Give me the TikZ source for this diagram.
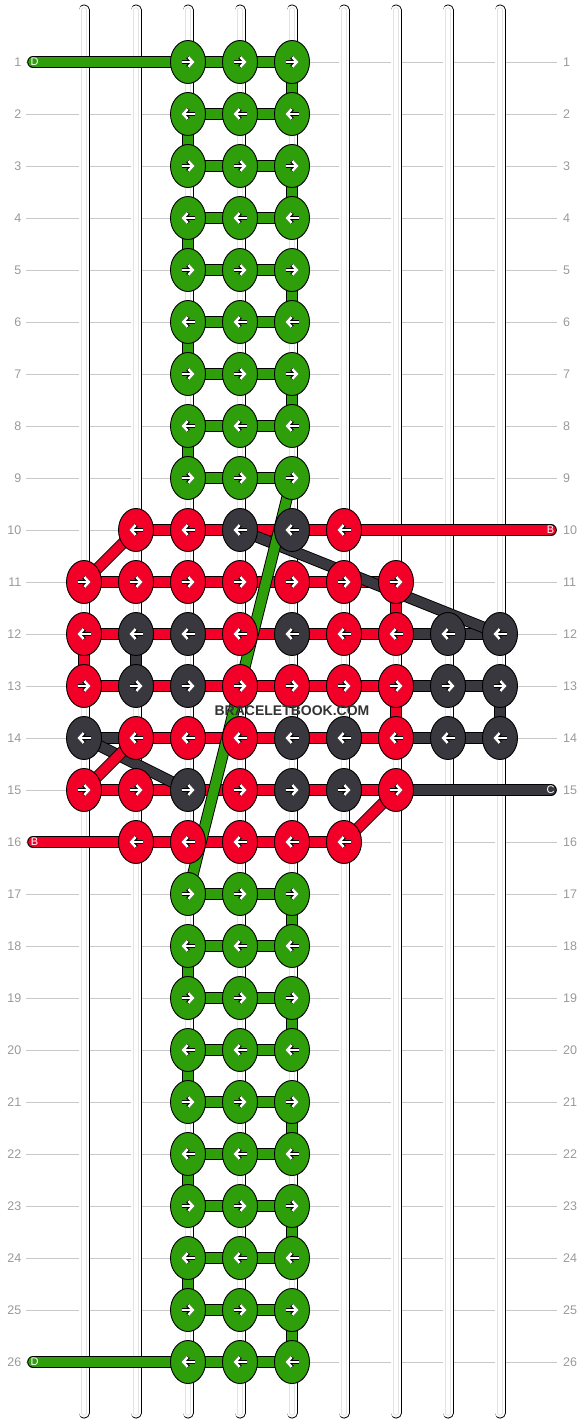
\documentclass[tikz,border=0pt]{standalone}
\usepackage{fontspec}
\setmainfont{Liberation Sans}
\usepackage{tikz}
\usetikzlibrary{shapes.geometric, arrows.meta}

\definecolor{tgreen}{HTML}{2E9E0A}
\definecolor{tred}{HTML}{F20028}
\definecolor{tdark}{HTML}{38383E}
\definecolor{rowgray}{HTML}{C8C8C8}
\definecolor{numgray}{HTML}{999999}

\pgfdeclarelayer{strings}
\pgfdeclarelayer{threads}
\pgfsetlayers{strings,threads,main}

% knot: row, column, colour, direction (1 = right, -1 = left)
\newcommand\knot[4]{\node[knot=#3, arr=#4] (k#1-#2) at ({84+52*#2},{10+52*#1}) {};}

\begin{document}
\begin{tikzpicture}[x=1pt, y=-1pt,
    knot/.style={ellipse, draw=black, line width=0.9pt, fill=#1, minimum width=35pt, minimum height=43pt, inner sep=0pt},
    arr/.style={path picture={
        \draw[black, line width=3.6pt, -{Straight Barb[length=4.5pt, width=10pt]}]
          ([xshift=-6.5pt*(#1)]path picture bounding box.center) -- ([xshift=6.5pt*(#1)]path picture bounding box.center);
        \draw[white, line width=2.5pt, -{Straight Barb[length=4.5pt, width=10pt]}]
          ([xshift=-6.5pt*(#1)]path picture bounding box.center) -- ([xshift=6.5pt*(#1)]path picture bounding box.center);}},
    thr/.style={draw=black, line width=0.9pt, double=#1, double distance=9.8pt},
    rowline/.style={draw=rowgray, line width=1pt},
    rowno/.style={text=numgray, font=\fontsize{12.5}{14}\selectfont, inner sep=0pt},
    endtag/.style={text=white, font=\fontsize{11}{12}\selectfont, inner sep=0pt}]
  \useasboundingbox (0,0) rectangle (584,1424);

  % background: row lines and strings
  \begin{pgfonlayer}{strings}
    \foreach \r in {1,...,26}
      \draw[rowline] (26,{10+52*\r}) -- (557,{10+52*\r});
    \foreach \c in {0,...,8}{
      \draw[black, line width=11pt, line cap=round] ({84+52*\c},10) -- ({84+52*\c},1413);
      \draw[white, line width=9.2pt, line cap=round] ({84+52*\c},10) -- ({84+52*\c},1413);
      \draw[gray!22, line width=5.4pt, line cap=round] ({84+52*\c},10) -- ({84+52*\c},1413);
      \draw[white, line width=3.6pt, line cap=round] ({84+52*\c},10) -- ({84+52*\c},1413);
    }
  \end{pgfonlayer}

  \foreach \r in {1,...,26}{
    \node[rowno, anchor=east] (nl\r) at (21.5,{10+52*\r}) {\r};
    \node[rowno, anchor=west] (nr\r) at (563,{10+52*\r}) {\r};
  }

  % knots
  \foreach \r in {1,2,3,4,5,6,7,8,9,17,18,19,20,21,22,23,24,25,26}{
    \ifodd\r \def\s{1}\else \def\s{-1}\fi
    \foreach \c in {2,3,4} {\knot{\r}{\c}{tgreen}{\s}}
  }
  \foreach \r/\c/\col/\s in {
      10/1/tred/-1, 10/2/tred/-1, 10/3/tdark/-1, 10/4/tdark/-1, 10/5/tred/-1,
      11/0/tred/1, 11/1/tred/1, 11/2/tred/1, 11/3/tred/1, 11/4/tred/1, 11/5/tred/1, 11/6/tred/1,
      12/0/tred/-1, 12/1/tdark/-1, 12/2/tdark/-1, 12/3/tred/-1, 12/4/tdark/-1, 12/5/tred/-1, 12/6/tred/-1, 12/7/tdark/-1, 12/8/tdark/-1,
      13/0/tred/1, 13/1/tdark/1, 13/2/tdark/1, 13/3/tred/1, 13/4/tred/1, 13/5/tred/1, 13/6/tred/1, 13/7/tdark/1, 13/8/tdark/1,
      14/0/tdark/-1, 14/1/tred/-1, 14/2/tred/-1, 14/3/tred/-1, 14/4/tdark/-1, 14/5/tdark/-1, 14/6/tred/-1, 14/7/tdark/-1, 14/8/tdark/-1,
      15/0/tred/1, 15/1/tred/1, 15/2/tdark/1, 15/3/tred/1, 15/4/tdark/1, 15/5/tdark/1, 15/6/tred/1,
      16/1/tred/-1, 16/2/tred/-1, 16/3/tred/-1, 16/4/tred/-1, 16/5/tred/-1}
    {\knot{\r}{\c}{\col}{\s}}

  % loose ends
  \coordinate (eD1) at (33,62);
  \coordinate (eB10) at (551,530);
  \coordinate (eC15) at (551,790);
  \coordinate (eB16) at (33,842);
  \coordinate (eD26) at (33,1362);

  \begin{pgfonlayer}{threads}
    \foreach \r in {1,2,3,4,5,6,7,8,9,17,18,19,20,21,22,23,24,25,26}
      \draw[thr=tgreen] (k\r-2.center) -- (k\r-3.center) -- (k\r-4.center);
    \foreach \r/\n/\c in {1/2/4, 2/3/2, 3/4/4, 4/5/2, 5/6/4, 6/7/2, 7/8/4, 8/9/2,
        17/18/4, 18/19/2, 19/20/4, 20/21/2, 21/22/4, 22/23/2, 23/24/4, 24/25/2, 25/26/4}
      \draw[thr=tgreen] (k\r-\c.center) -- (k\n-\c.center);
    \foreach \r/\a/\b/\col in {
        10/1/2/tred, 10/2/3/tred, 10/3/4/tred, 10/4/5/tred,
        11/0/1/tred, 11/1/2/tred, 11/2/3/tred, 11/3/4/tred, 11/4/5/tred, 11/5/6/tred,
        12/0/1/tred, 12/1/2/tred, 12/2/3/tred, 12/3/4/tred, 12/4/5/tred, 12/5/6/tred, 12/6/7/tdark, 12/7/8/tdark,
        13/0/1/tred, 13/1/2/tred, 13/2/3/tred, 13/3/4/tred, 13/4/5/tred, 13/5/6/tred, 13/6/7/tdark, 13/7/8/tdark,
        14/0/1/tdark, 14/1/2/tred, 14/2/3/tred, 14/3/4/tred, 14/4/5/tred, 14/5/6/tred, 14/6/7/tdark, 14/7/8/tdark,
        15/0/1/tred, 15/1/2/tred, 15/2/3/tred, 15/3/4/tred, 15/4/5/tred, 15/5/6/tred,
        16/1/2/tred, 16/2/3/tred, 16/3/4/tred, 16/4/5/tred}
      \draw[thr=\col] (k\r-\a.center) -- (k\r-\b.center);
    \foreach \r/\n/\c/\col in {11/12/6/tred, 12/13/0/tred, 12/13/1/tdark, 13/14/6/tred, 13/14/8/tdark}
      \draw[thr=\col] (k\r-\c.center) -- (k\n-\c.center);
    % diagonals
    \draw[thr=tdark] (k10-3.center) -- (k12-8.center);
    \draw[thr=tred] (k11-0.center) -- (k10-1.center);
    \draw[thr=tdark] (k14-0.center) -- (k15-2.center);
    \draw[thr=tred] (k15-0.center) -- (k14-1.center);
    \draw[thr=tred] (k15-6.center) -- (k16-5.center);
    \draw[thr=tgreen] (k9-4.center) -- (k17-2.center);
    % ends
    \draw[thr=tgreen, line cap=round] (eD1) -- (k1-2.center);
    \draw[thr=tred, line cap=round] (eB10) -- (k10-5.center);
    \draw[thr=tdark, line cap=round] (eC15) -- (k15-6.center);
    \draw[thr=tred, line cap=round] (eB16) -- (k16-1.center);
    \draw[thr=tgreen, line cap=round] (eD26) -- (k26-2.center);
  \end{pgfonlayer}

  \node[endtag] (tD1) at (34.5,62) {D};
  \node[endtag] (tB10) at (550.5,530) {B};
  \node[endtag] (tC15) at (550.5,790) {C};
  \node[endtag] (tB16) at (34.5,842) {B};
  \node[endtag] (tD26) at (34.5,1362) {D};

  \node[font=\bfseries\fontsize{14}{16}\selectfont, text=black!80, inner sep=0pt] (mark) at (292,711) {BRACELETBOOK.COM};
\end{tikzpicture}
\end{document}
